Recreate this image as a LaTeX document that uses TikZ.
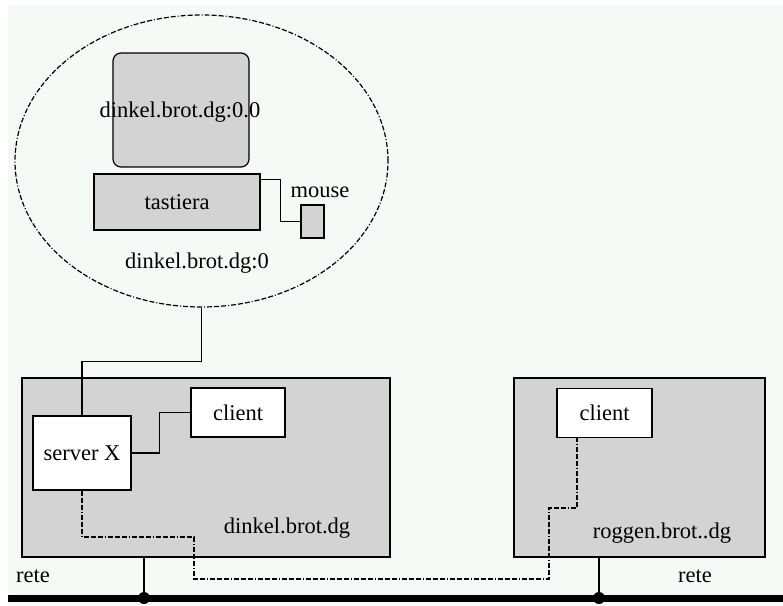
\documentclass[tikz,border=0pt]{standalone}
\usepackage{fontspec}
\setmainfont{Liberation Serif}
\usepackage{tikz}
\usetikzlibrary{shapes.geometric}
\usepackage{xcolor}
\definecolor{boxgray}{RGB}{211, 211, 211}
\definecolor{paper}{RGB}{246, 250, 246}

\begin{document}
\begin{tikzpicture}[x=1pt, y=-1pt, line width=1.2pt,
    font=\fontsize{22.5}{26}\selectfont,
    graybox/.style={draw, fill=boxgray, inner sep=0pt},
    whitebox/.style={draw, fill=white, inner sep=0pt},
    dotdash/.style={dash pattern=on 5pt off 2pt on 5pt off 2pt on 5pt off 2pt on 1pt off 2pt}]
    \useasboundingbox (0,0) rectangle (783,605);
    \fill[paper] (8,5) rectangle (783,605);

    % display: screen, keyboard and mouse
    \node[ellipse, draw, dotdash, minimum width=373, minimum height=292] (display) at (201.5,161) {};
    \node[graybox, rounded corners=8pt, minimum width=136, minimum height=114] (screen) at (181,110) {};
    \node (screenlabel) at (180,112) {dinkel.brot.dg:0.0};
    \node[graybox, minimum width=166, minimum height=56] (keyboard) at (177,202) {tastiera};
    \node[graybox, minimum width=23, minimum height=33] (mouse) at (312.5,221.5) {};
    \node (mouselabel) at (320,192) {mouse};
    \node (displaylabel) at (197,263) {dinkel.brot.dg:0};
    \draw ([shift={(-2pt,-6pt)}]keyboard.north east) -- ++(22,0) |- (mouse.west);

    % host dinkel
    \node[graybox, minimum width=368, minimum height=179] (hostA) at (206,467.5) {};
    \node[whitebox, minimum width=98, minimum height=74] (server) at (82,453) {server X};
    \node[whitebox, minimum width=94, minimum height=49] (clientA) at (238,412.5) {client};
    \node (hostAlabel) at (287,528) {dinkel.brot.dg};
    \draw (server.east) -- ++(28,0) |- (clientA.west);
    \draw (display.south) -- ++(0,54) -| (server.north);

    % host roggen
    \node[graybox, minimum width=251, minimum height=179] (hostB) at (639.5,467.5) {};
    \node[whitebox, minimum width=95, minimum height=49] (clientB) at (604.5,413) {client};
    \node (hostBlabel) at (662,533) {roggen.brot..dg};
    \coordinate (clientBport) at ([xshift=-27.5pt]clientB.south);
    \draw[dotdash] (server.south) |- (194,537) |- (549,579) |- (577,508) -- (clientBport);

    % rete
    \coordinate (busL) at (8,598);
    \coordinate (busR) at (783,598);
    \coordinate (tapA) at (144,598);
    \coordinate (tapB) at (599,598);
    \draw[line width=7pt] (busL) -- (busR);
    \draw[line width=2.5pt] (tapA |- hostA.south) -- (tapA);
    \draw[line width=2.5pt] (tapB |- hostB.south) -- (tapB);
    \fill (tapA) circle (6);
    \fill (tapB) circle (6);
    \node (reteA) at (33,576) {rete};
    \node (reteB) at (695,576) {rete};
\end{tikzpicture}
\end{document}
